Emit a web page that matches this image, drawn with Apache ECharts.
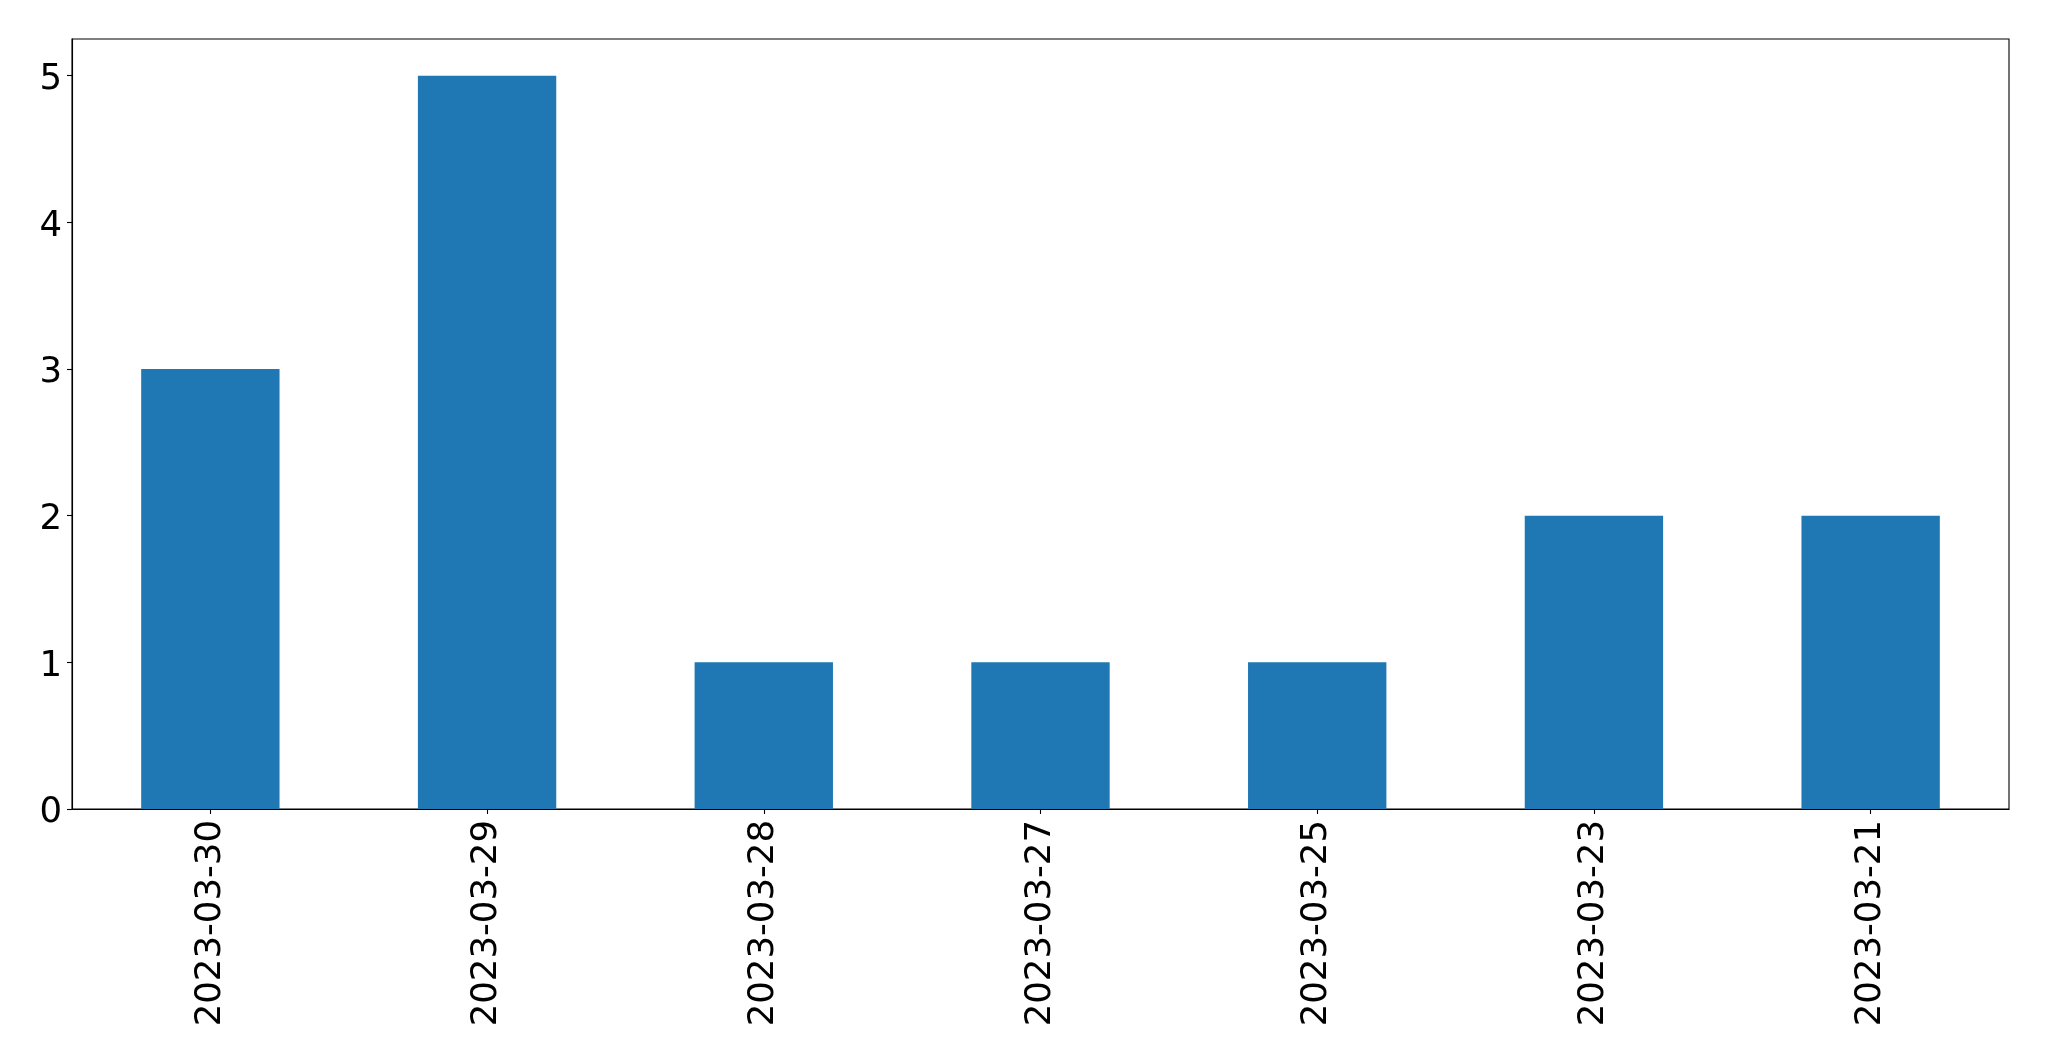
<!DOCTYPE html>
<html>
<head>
<meta charset="utf-8">
<script src="https://cdn.jsdelivr.net/npm/echarts@6/dist/echarts.min.js"></script>
<style>
html,body{margin:0;padding:0;background:#fff;}
#chart{width:2049px;height:1061px;}
</style>
</head>
<body>
<div id="chart"></div>
<script>
const categories = ['2023-03-30','2023-03-29','2023-03-28','2023-03-27','2023-03-25','2023-03-23','2023-03-21'];
const values = [3, 5, 1, 1, 1, 2, 2];
const yTicks = [0, 1, 2, 3, 4, 5];

const chart = echarts.init(document.getElementById('chart'), null, {renderer:'canvas'});
const font = 'DejaVu Sans';
chart.setOption({
  animation: false,
  backgroundColor: '#fff',
  grid: {left: 72, top: 39, width: 1937, height: 770, show: true, borderColor: '#000', borderWidth: 1.1, backgroundColor: 'transparent'},
  xAxis: {
    type: 'category',
    data: categories,
    axisLine: {show: true, lineStyle: {color: '#000', width: 1.1}},
    axisTick: {show: true, alignWithLabel: true, length: 5, lineStyle: {color: '#000', width: 1.1}},
    axisLabel: {rotate: 90, color: '#000', fontFamily: font, fontSize: 35.5, margin: 11, interval: 0},
    splitLine: {show: false}
  },
  yAxis: {
    type: 'value',
    min: 0,
    max: 5.25,
    interval: 1,
    axisLine: {show: true, lineStyle: {color: '#000', width: 1.1}},
    axisTick: {show: true, length: 5, lineStyle: {color: '#000', width: 1.1}, customValues: yTicks},
    axisLabel: {
      color: '#000', fontFamily: font, fontSize: 35.5, margin: 10, customValues: yTicks,
      formatter: v => '{a|' + v + '}',
      rich: {a: {fontFamily: font, fontSize: 35.5, color: '#000', padding: [8, 0, 0, 0]}}
    },
    splitLine: {show: false}
  },
  series: [{
    type: 'bar',
    data: values,
    barWidth: '50%',
    itemStyle: {color: '#1f77b4'}
  }]
});
</script>
</body>
</html>
